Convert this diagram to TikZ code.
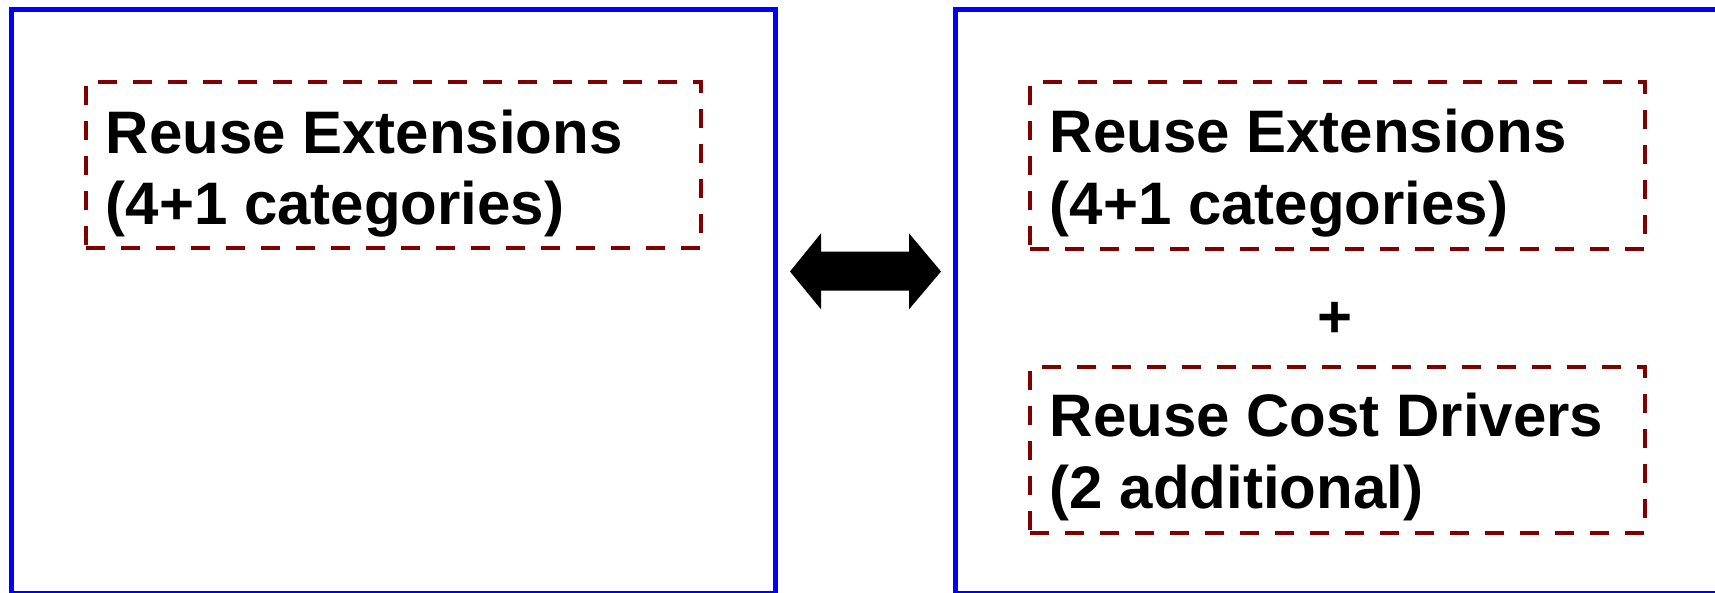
\documentclass[tikz,border=0pt]{standalone}
\usepackage{fontspec}
\setmainfont{Liberation Sans}
\definecolor{panelblue}{RGB}{0,0,255}
\definecolor{boxred}{RGB}{128,0,0}
\tikzset{
  panel/.style={draw=panelblue, line width=5pt, rectangle, inner sep=0pt},
  dbox/.style={draw=boxred, line width=4pt, dash pattern=on 19pt off 16pt, rectangle, inner sep=0pt},
  txt/.style={font=\fontsize{60}{71}\selectfont\bfseries, text=black, inner sep=0pt, anchor=base west},
  plustxt/.style={font=\fontsize{60}{71}\selectfont\bfseries, text=black, inner sep=0pt, anchor=base},
  bigarrow/.style={fill=black, draw=none}
}
\begin{document}
\begin{tikzpicture}[x=1pt, y=-1pt]
  \useasboundingbox (0,0) rectangle (1715,592);

  % two panels (bottom edges fall just below the page)
  \node[panel, minimum width=764, minimum height=584] (left) at (393.5,301.5) {};
  \node[panel, minimum width=780, minimum height=584] (right) at (1345,301.5) {};

  % dashed boxes
  \node[dbox, minimum width=614.5, minimum height=166.5] (lext) at (393.25,164.75) {};
  \node[dbox, minimum width=615, minimum height=166.5] (rext) at (1337.5,165.5) {};
  \node[dbox, minimum width=615, minimum height=166] (rcost) at (1337.5,449.7) {};

  % texts
  \node[txt] (lext1) at (105.5,153.3) {Reuse Extensions};
  \node[txt] (lext2) at (105.5,224) {(4+1 categories)};
  \node[txt] (rext1) at (1049.5,152.7) {Reuse Extensions};
  \node[txt] (rext2) at (1049.5,224) {(4+1 categories)};
  \node[plustxt] (plus) at (1335,337) {+};
  \node[txt] (rcost1) at (1049.5,436.7) {Reuse Cost Drivers};
  \node[txt] (rcost2) at (1049.5,508) {(2 additional)};

  % double-headed block arrow between the panels
  \coordinate (mid) at (865.5,271.5);
  \fill[bigarrow] ([xshift=-75.5]mid)
    -- ++(31,-38.2) -- ++(0,18.4) -- ++(88,0) -- ++(0,-18.4)
    -- ++(32,38.2) -- ++(-32,37.8) -- ++(0,-18.6) -- ++(-88,0)
    -- ++(0,18.6) -- cycle;
\end{tikzpicture}
\end{document}
